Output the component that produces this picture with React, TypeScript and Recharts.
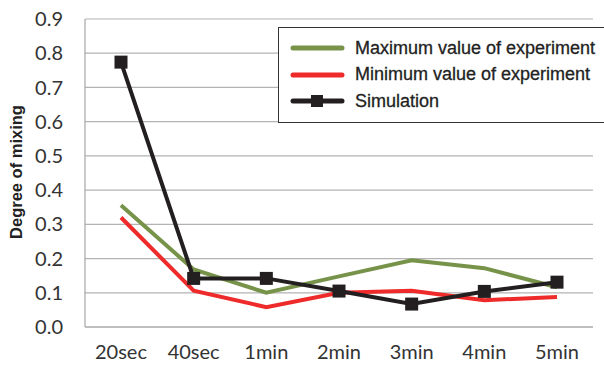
import React from 'react';
import {
  LineChart,
  Line,
  XAxis,
  YAxis,
  CartesianGrid,
} from 'recharts';

const categories = ['20sec', '40sec', '1min', '2min', '3min', '4min', '5min'];
const maxValues = [0.356, 0.168, 0.1, 0.148, 0.195, 0.172, 0.116];
const minValues = [0.32, 0.106, 0.058, 0.1, 0.106, 0.078, 0.088];
const simValues = [0.774, 0.142, 0.142, 0.105, 0.067, 0.104, 0.131];
const yTicks = [0, 0.1, 0.2, 0.3, 0.4, 0.5, 0.6, 0.7, 0.8, 0.9];

const GREEN = '#77934a';
const RED = '#ee2a2a';
const BLACK = '#231f20';

const data = categories.map((c, i) => ({
  name: c,
  max: maxValues[i],
  min: minValues[i],
  sim: simValues[i],
}));

const legendItems = [
  { label: 'Maximum value of experiment', color: GREEN, marker: false },
  { label: 'Minimum value of experiment', color: RED, marker: false },
  { label: 'Simulation', color: BLACK, marker: true },
];

function LegendBox() {
  return (
    <div
      style={{
        position: 'absolute',
        left: 278,
        top: 27,
        width: 330,
        height: 96,
        border: '1.5px solid #333',
        background: '#fff',
        boxSizing: 'border-box',
        paddingTop: 7,
        fontFamily: 'Liberation Sans, Arial, sans-serif',
        fontSize: 18,
        color: '#222',
      }}
    >
      {legendItems.map((it) => (
        <div key={it.label} style={{ display: 'flex', alignItems: 'center', height: 26.5 }}>
          <svg width={65} height={14} style={{ marginLeft: 11 }}>
            <line x1={3} y1={7} x2={52} y2={7} stroke={it.color} strokeWidth={5} strokeLinecap="round" />
            {it.marker && <rect x={21} y={1} width={12} height={12} fill={it.color} />}
          </svg>
          <span style={{ WebkitTextStroke: '0.3px #222' }}>{it.label}</span>
        </div>
      ))}
    </div>
  );
}

function SquareDot(props: any) {
  const { cx, cy } = props;
  if (cx == null || cy == null) return null;
  return <rect x={cx - 6.5} y={cy - 6.5} width={13} height={13} fill={BLACK} />;
}

const tickStyle = { fill: '#333', fontSize: 20, fontFamily: 'Lato, sans-serif' };

export default function App() {
  return (
    <div style={{ position: 'absolute', left: 0, top: 0, width: 604, height: 368, background: '#fff' }}>
      <LineChart
        width={604}
        height={368}
        data={data}
        margin={{ top: 19, right: 11, bottom: 0, left: 0 }}
      >
        <CartesianGrid vertical={false} stroke="#b3b3b3" strokeWidth={1.2} />
        <XAxis
          dataKey="name"
          height={41}
          padding={{ left: 36, right: 36 }}
          tickLine={false}
          axisLine={{ stroke: '#a6a6a6', strokeWidth: 1.2 }}
          tickMargin={12}
          tick={tickStyle}
          interval={0}
        />
        <YAxis
          width={85}
          domain={[0, 0.9]}
          ticks={yTicks}
          interval={0}
          tickFormatter={(v: number) => v.toFixed(1)}
          tickLine={false}
          axisLine={{ stroke: '#a6a6a6', strokeWidth: 1.2 }}
          tickMargin={16}
          tick={tickStyle}
          label={{
            value: 'Degree of mixing',
            angle: -90,
            position: 'insideLeft',
            offset: 16,
            dy: -1,
            style: {
              textAnchor: 'middle',
              fill: '#222',
              fontSize: 16.5,
              fontWeight: 'bold',
              fontFamily: 'Liberation Sans, Arial, sans-serif',
            },
          }}
        />
        <Line
          dataKey="max"
          stroke={GREEN}
          strokeWidth={4}
          dot={false}
          isAnimationActive={false}
        />
        <Line
          dataKey="min"
          stroke={RED}
          strokeWidth={4}
          dot={false}
          isAnimationActive={false}
        />
        <Line
          dataKey="sim"
          stroke={BLACK}
          strokeWidth={4}
          dot={<SquareDot />}
          isAnimationActive={false}
        />
      </LineChart>
      <LegendBox />
    </div>
  );
}
